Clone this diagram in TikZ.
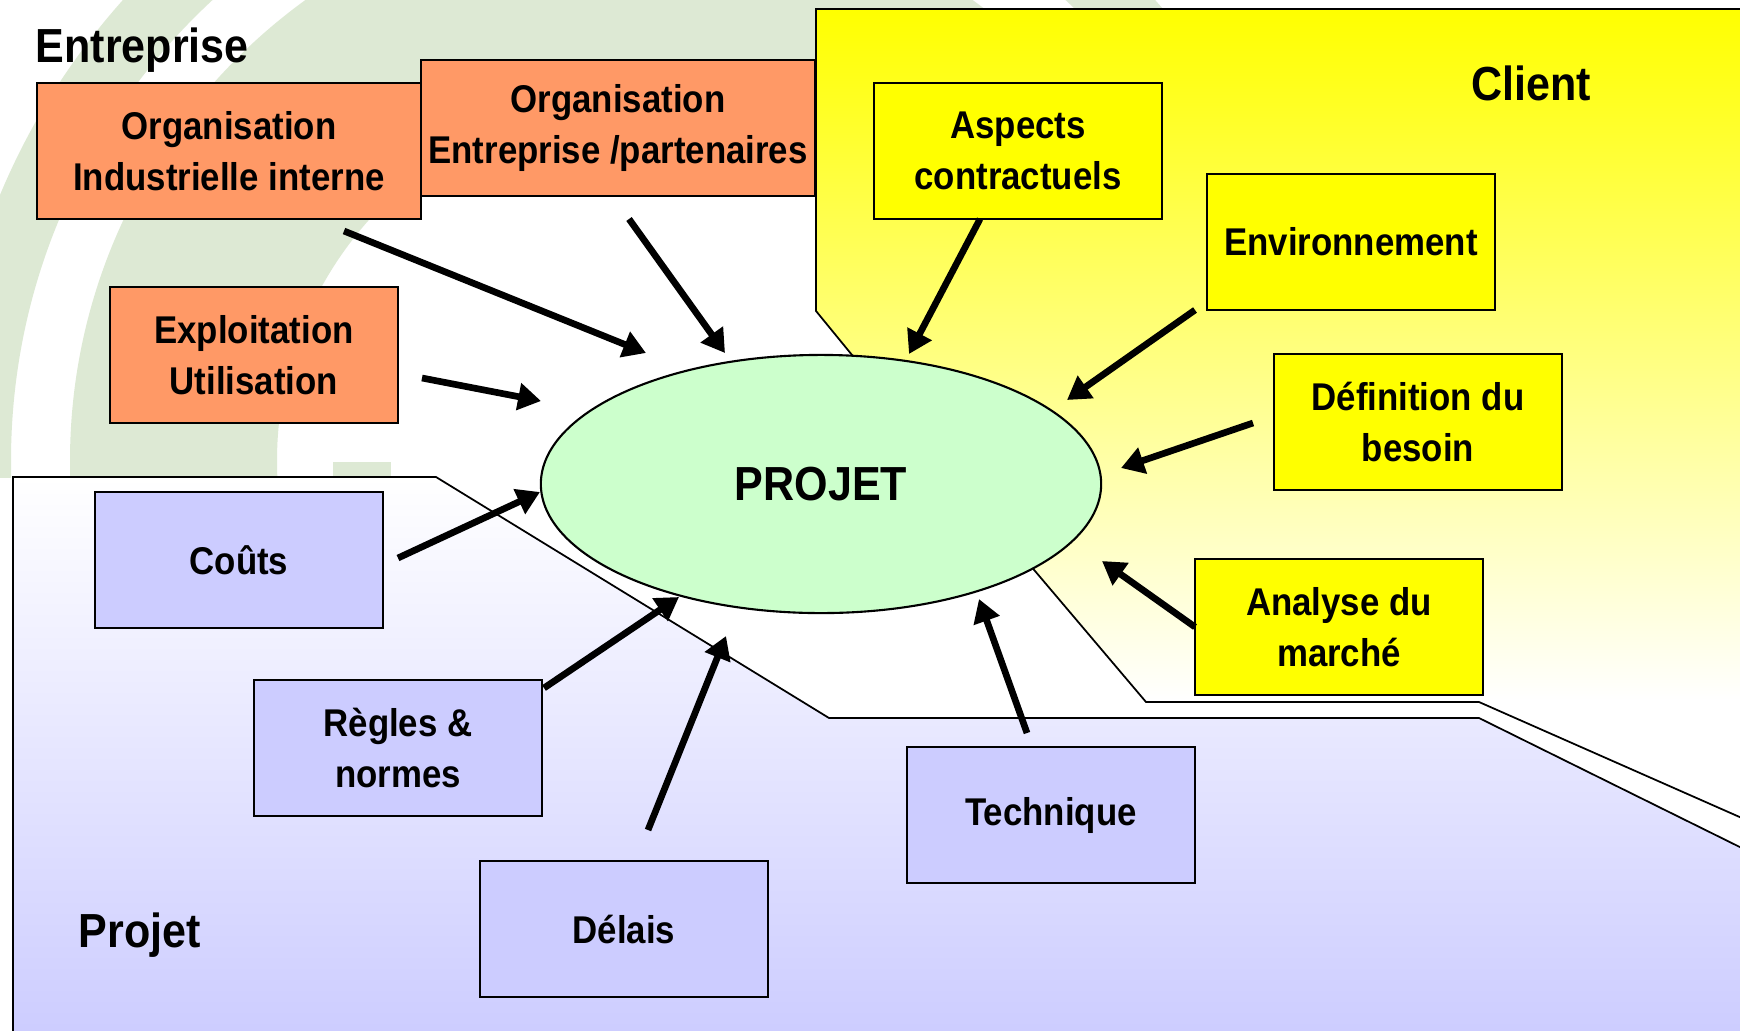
\documentclass[tikz,border=0pt]{standalone}
\usepackage{fontspec}
\setmainfont{Liberation Sans}[FakeStretch=0.9]
\usetikzlibrary{shapes.geometric, arrows.meta}
\definecolor{orgorange}{HTML}{FF9966}
\definecolor{clientyellow}{HTML}{FFFF00}
\definecolor{projlav}{HTML}{CCCCFF}
\definecolor{projgreen}{HTML}{CCFFCC}
\definecolor{arcgreen}{HTML}{DDE9D4}
\newcommand{\boxfont}{\fontsize{11}{14.5}\selectfont\bfseries}
\newcommand{\bigfont}{\fontsize{13.6}{16}\selectfont\bfseries}
\tikzstyle{orgbox} = [rectangle, draw, line width=0.6pt, minimum width=2.88cm, minimum height=1.36cm, inner sep=0pt, align=center, fill=orgorange, font=\boxfont]
\tikzstyle{clientbox} = [orgbox, fill=clientyellow]
\tikzstyle{projbox} = [orgbox, fill=projlav]
\tikzstyle{zone} = [anchor=base west, inner sep=0pt, font=\bigfont]
\tikzstyle{arrow} = [line width=1.9pt, -{Triangle[length=6.5pt,width=7.5pt]}]

\begin{document}
\begin{tikzpicture}[x=0.01cm, y=-0.01cm]
            \useasboundingbox (0,0) rectangle (1740,1030);
            \clip (0,0) rectangle (1740,1030);
            \fill [white] (0,0) rectangle (1740,1030);
            % logo arcs in the background
            \begin{scope}
            \clip (0,0) rectangle (1740,477);
            \fill [arcgreen, even odd rule] (639,461) circle (692) circle (628);
            \fill [arcgreen, even odd rule] (639,461) circle (569) circle (362);
            \end{scope}
            \fill [arcgreen] (333,462) rectangle (391,477);
            % client area
            \begin{scope}
            \clip (816,9) -- (1760,9) -- (1760,826) -- (1479,702) -- (1146,702) -- (852,355) -- (816,311) -- cycle;
            \shade [top color=clientyellow, bottom color=white] (800,9) rectangle (1760,700);
            \fill [white] (800,700) rectangle (1760,830);
            \end{scope}
            \draw [line width=0.5pt] (816,9) -- (1760,9) -- (1760,826) -- (1479,702) -- (1146,702) -- (852,355) -- (816,311) -- cycle;
            % projet area
            \shade [top color=white, bottom color=projlav, draw=black, line width=0.5pt] (13,477) -- (436,477) -- (829,718) -- (1479,718) -- (1760,857) -- (1760,1040) -- (13,1040) -- cycle;
            \node [ellipse, draw, line width=0.6pt, fill=projgreen, minimum width=5.6cm, minimum height=2.58cm, font=\bigfont] at (821,484) (projet) {PROJET};
            \node [orgbox, minimum width=3.84cm] at (229,151) (orgind) {Organisation\\Industrielle interne};
            \node [orgbox, minimum width=3.94cm] at (618,128) (orgpart) {Organisation\\Entreprise /partenaires};
            \node [orgbox] at (254,355) (exploit) {Exploitation\\Utilisation};
            \node [clientbox] at (1018,151) (aspects) {Aspects\\contractuels};
            \node [clientbox] at (1351,242) (environ) {Environnement};
            \node [clientbox] at (1418,422) (besoin) {Définition du\\besoin};
            \node [clientbox] at (1339,627) (marche) {Analyse du\\marché};
            \node [projbox] at (239,560) (couts) {Coûts};
            \node [projbox] at (398,748) (regles) {Règles \&\\normes};
            \node [projbox] at (624,929) (delais) {Délais};
            \node [projbox] at (1051,815) (technique) {Technique};
            \node [zone] at (35,62) (entreprise) {Entreprise};
            \node [zone] at (1471,100) (client) {Client};
            \node [zone] at (78,947) (projetzone) {Projet};
            % arrow ends
            \coordinate (orgind-a) at (344,231);   \coordinate (orgind-b) at (646,353);
            \coordinate (orgpart-a) at (629,219);  \coordinate (orgpart-b) at (725,353);
            \coordinate (exploit-a) at (422,378);  \coordinate (exploit-b) at (541,401);
            \coordinate (aspects-a) at (980,219);  \coordinate (aspects-b) at (909,354);
            \coordinate (environ-a) at (1195,310); \coordinate (environ-b) at (1067,400);
            \coordinate (besoin-a) at (1253,423);  \coordinate (besoin-b) at (1121,468);
            \coordinate (marche-a) at (1195,627);  \coordinate (marche-b) at (1102,561);
            \coordinate (technique-a) at (1027,733); \coordinate (technique-b) at (979,599);
            \coordinate (delais-a) at (648,830);   \coordinate (delais-b) at (726,636);
            \coordinate (regles-a) at (544,688);   \coordinate (regles-b) at (679,597);
            \coordinate (couts-a) at (398,558);    \coordinate (couts-b) at (540,492);
            \draw [arrow] (orgind-a) -- (orgind-b);
            \draw [arrow] (orgpart-a) -- (orgpart-b);
            \draw [arrow] (exploit-a) -- (exploit-b);
            \draw [arrow] (aspects-a) -- (aspects-b);
            \draw [arrow] (environ-a) -- (environ-b);
            \draw [arrow] (besoin-a) -- (besoin-b);
            \draw [arrow] (marche-a) -- (marche-b);
            \draw [arrow] (technique-a) -- (technique-b);
            \draw [arrow] (delais-a) -- (delais-b);
            \draw [arrow] (regles-a) -- (regles-b);
            \draw [arrow] (couts-a) -- (couts-b);
            \end{tikzpicture}
\end{document}
